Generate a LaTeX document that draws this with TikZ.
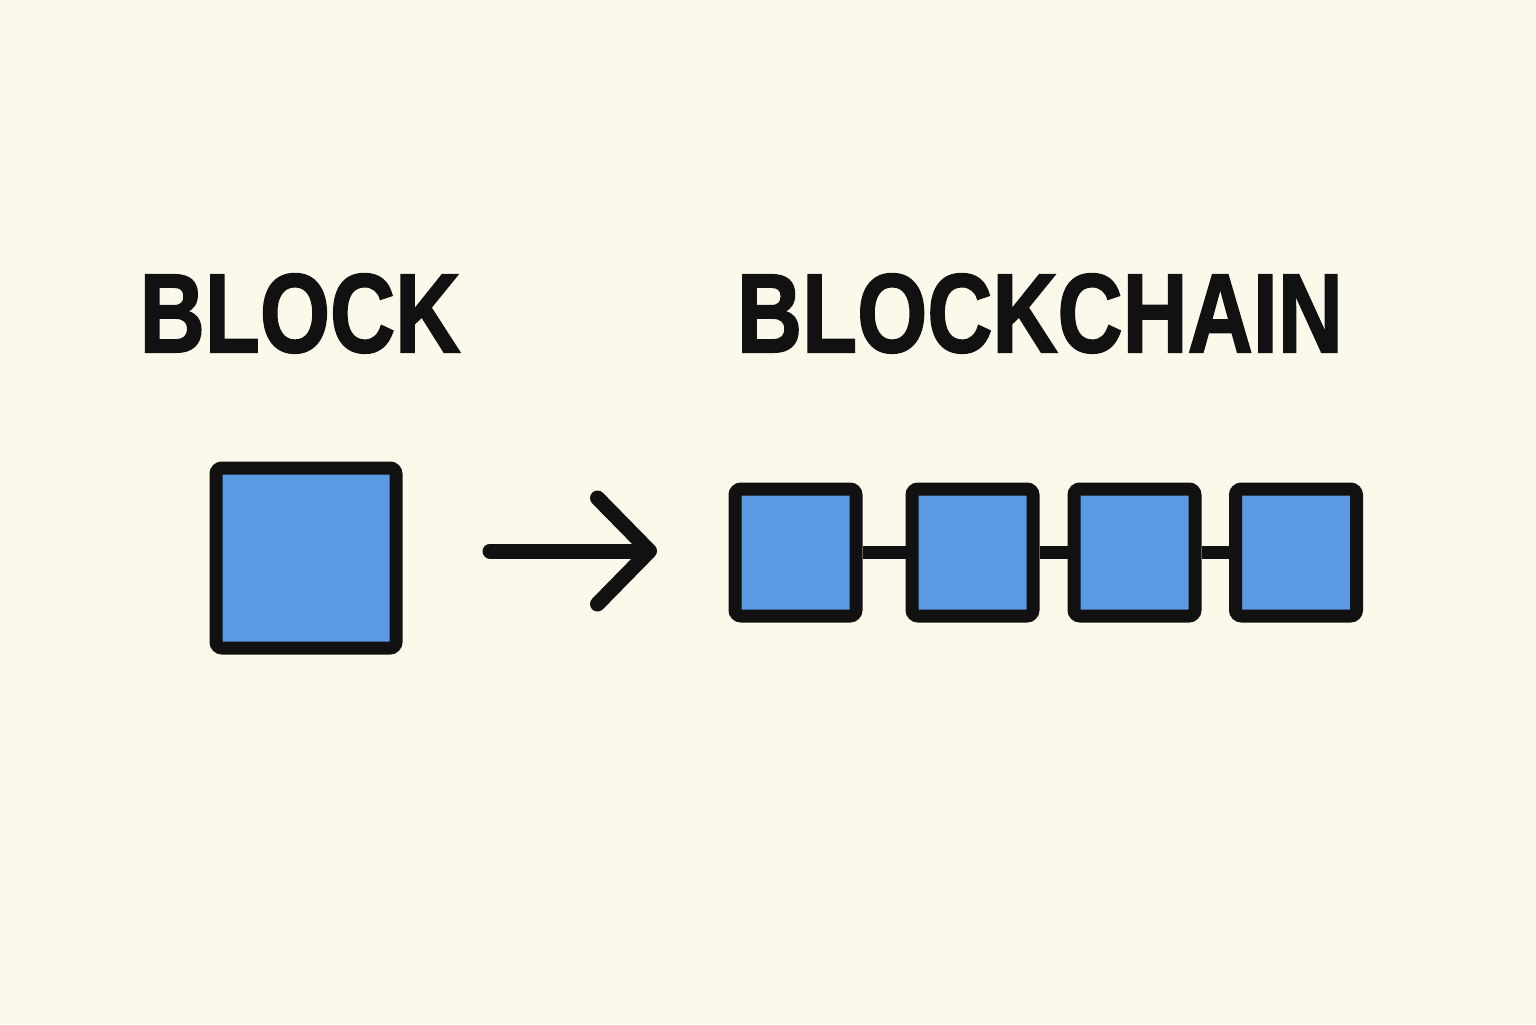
\documentclass[tikz,border=0pt]{standalone}
\usepackage{fontspec}
\setmainfont{Liberation Sans}
\newfontfamily\heavyfont[FakeBold=1.8]{Liberation Sans Bold}
\usetikzlibrary{arrows.meta}
\definecolor{paper}{RGB}{253,249,234}
\definecolor{blockblue}{RGB}{90,154,226}
\definecolor{ink}{RGB}{17,17,17}
\tikzset{
  block/.style={draw=ink, fill=blockblue, line width=6.5pt, rounded corners=3pt,
    inner sep=0pt, minimum width=90pt, minimum height=90pt},
  chainblock/.style={block, minimum width=60.5pt, minimum height=63.5pt},
  link/.style={draw=ink, line width=6.5pt},
  title/.style={font=\heavyfont\fontsize{56}{60}\selectfont, text=ink, inner sep=0pt,
    anchor=base, xscale=0.805}
}
\begin{document}
\begin{tikzpicture}[x=0.5pt,y=-0.5pt]
   \useasboundingbox[fill=paper] (0,0) rectangle (1536,1024);
   % titles
   \node[title] (blocktitle) at (300,352) {BLOCK};
   \node[title] (chaintitle) at (1040,352) {BLOCKCHAIN};
   % the single block
   \node[block] (single) at (306,558) {};
   % the chain
   \node[chainblock] (chain1) at (795.5,552.5) {};
   \node[chainblock] (chain2) at (972.5,552.5) {};
   \node[chainblock] (chain3) at (1134.5,552.5) {};
   \node[chainblock] (chain4) at (1296,552.5) {};
   \draw[link] (chain1.east) -- (chain2.west);
   \draw[link] (chain2.east) -- (chain3.west);
   \draw[link] (chain3.east) -- (chain4.west);
   % arrow from block to chain
   \coordinate (arrowtail) at (490,551);
   \coordinate (arrowtip) at (657,551);
   \draw[draw=ink, line width=7.5pt, line cap=round,
     -{Straight Barb[length=26pt,width=53pt,line width=7.5pt,round]}] (arrowtail) -- (arrowtip);
\end{tikzpicture}
\end{document}
